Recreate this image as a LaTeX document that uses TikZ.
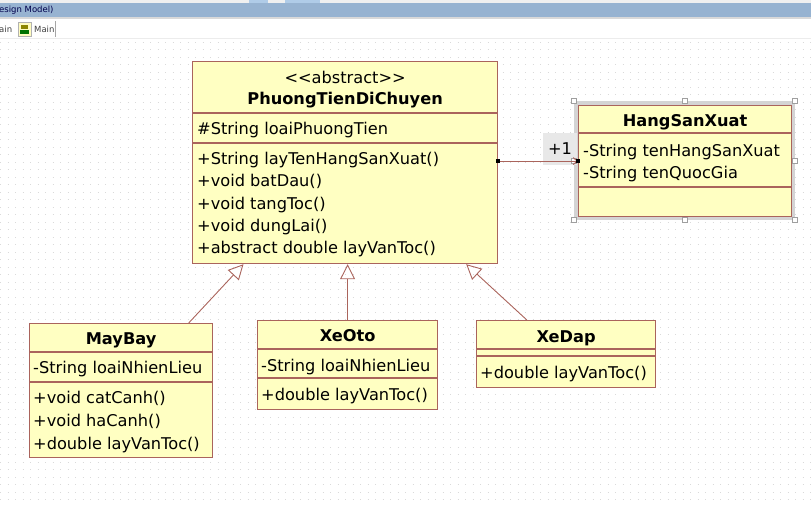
\documentclass[tikz,border=0pt]{standalone}
\usepackage{fontspec}
\setmainfont{DejaVu Sans}
\usetikzlibrary{positioning,arrows.meta,calc}
\definecolor{classfill}{RGB}{255,255,194}
\definecolor{classline}{RGB}{170,100,92}
\definecolor{titleblue}{RGB}{151,179,209}
\definecolor{tabblue}{RGB}{176,204,232}
\definecolor{griddot}{RGB}{218,218,218}
\definecolor{selgray}{RGB}{212,212,212}
\tikzset{
    class box/.style={rectangle, draw=classline, fill=classfill, line width=1.2pt, inner sep=0pt, anchor=north west},
    class title/.style={font=\bfseries\fontsize{16.2}{20}\selectfont, inner sep=0pt, anchor=mid, yshift=-3.5pt},
    stereo/.style={font=\fontsize{16.2}{20}\selectfont, inner sep=0pt, anchor=mid, yshift=-3.5pt},
    member/.style={font=\fontsize{16.2}{20}\selectfont, inner sep=0pt, anchor=mid west, yshift=-3.5pt},
    divider/.style={draw=classline, line width=1.2pt},
    inherit arrow/.style={-{Triangle[open, length=15pt, width=15pt]}, draw=classline, line width=0.9pt},
    assoc arrow/.style={-{Straight Barb[length=4pt, width=7pt]}, draw=classline, line width=1pt},
    sel frame/.style={rectangle, draw=selgray, line width=4pt, inner sep=0pt},
    handle/.style={rectangle, draw=gray!75, fill=white, line width=0.6pt, minimum size=5pt, inner sep=0pt},
    end handle/.style={rectangle, fill=black, minimum size=4pt, inner sep=0pt},
    mult/.style={rectangle, fill=gray!18, font=\fontsize{16.2}{20}\selectfont, minimum width=34pt, minimum height=32pt, inner sep=0pt},
    chrome text/.style={font=\fontsize{8.5}{10}\selectfont, inner sep=0pt, anchor=west}
}
\begin{document}
\begin{tikzpicture}[x=1pt, y=-1pt]
\useasboundingbox (0,0) rectangle (811,506);
% window chrome
\fill[gray!12] (0,0) rectangle (811,3);
\fill[tabblue] (249,0) rectangle (268,3);
\fill[tabblue] (285,0) rectangle (320,3);
\fill[titleblue] (0,3) rectangle (811,17);
\fill[gray!30] (0,17) rectangle (811,19);
\node[chrome text, text=blue!30!black] (wintitle) at (-1,10.5) {esign Model)};
\node[chrome text, text=black!75] (tabprev) at (-1,29) {ain};
\draw[gray!60, fill=yellow!25] (18,22) rectangle (31,36);
\fill[green!45!black] (20,30) rectangle (29,34);
\fill[olive] (21,25) rectangle (28,29);
\node[chrome text, text=black!75] (tabmain) at (34,29) {Main};
\draw[gray!70, line width=1pt] (55,21) -- (55,37);
\draw[gray!15] (0,38) -- (811,38);
% dot grid
\foreach \y in {42,49.5,...,500}
    \draw[griddot, line width=1pt, dash pattern=on 1pt off 6.5pt] (0,\y) -- (811,\y);

% abstract base class
\node[class box, minimum width=305pt, minimum height=202pt] (ptdc) at (192,61) {};
\node[stereo] (ptdc-st) at ($(ptdc.north)+(0,16)$) {<{}<abstract>{}>};
\node[class title] (ptdc-name) at ($(ptdc.north)+(0,37)$) {PhuongTienDiChuyen};
\draw[divider] ($(ptdc.north west)+(0,52)$) -- ($(ptdc.north east)+(0,52)$);
\node[member] (ptdc-attr) at ($(ptdc.north west)+(5,67)$) {\#String loaiPhuongTien};
\draw[divider] ($(ptdc.north west)+(0,82)$) -- ($(ptdc.north east)+(0,82)$);
\foreach \op [count=\i] in {{+String layTenHangSanXuat()}, {+void batDau()}, {+void tangToc()}, {+void dungLai()}, {+abstract double layVanToc()}}
    \node[member] (ptdc-op\i) at ($(ptdc.north west)+(5,{74.6+22.4*\i})$) {\op};

% manufacturer class (selected)
\node[sel frame, minimum width=217pt, minimum height=115pt] (hsx-sel) at (684.5,160.5) {};
\node[mult] (assoc-mult) at (560,149) {+1};
\node[class box, minimum width=213pt, minimum height=111pt] (hsx) at (578,105) {};
\node[class title] (hsx-name) at ($(hsx.north)+(0,15)$) {HangSanXuat};
\draw[divider] ($(hsx.north west)+(0,28)$) -- ($(hsx.north east)+(0,28)$);
\node[member] (hsx-attr1) at ($(hsx.north west)+(5,45)$) {-String tenHangSanXuat};
\node[member] (hsx-attr2) at ($(hsx.north west)+(5,67)$) {-String tenQuocGia};
\draw[divider] ($(hsx.north west)+(0,82)$) -- ($(hsx.north east)+(0,82)$);
\foreach \a/\n in {north west/1, north/2, north east/3, east/4, south east/5, south/6, south west/7, west/8}
    \node[handle] (hsx-handle\n) at (hsx-sel.\a) {};

% subclasses
\node[class box, minimum width=183pt, minimum height=134pt] (mb) at (29,323) {};
\node[class title] (mb-name) at ($(mb.north)+(0,15)$) {MayBay};
\draw[divider] ($(mb.north west)+(0,29)$) -- ($(mb.north east)+(0,29)$);
\node[member] (mb-attr) at ($(mb.north west)+(4,44)$) {-String loaiNhienLieu};
\draw[divider] ($(mb.north west)+(0,59)$) -- ($(mb.north east)+(0,59)$);
\foreach \op [count=\i] in {{+void catCanh()}, {+void haCanh()}, {+double layVanToc()}}
    \node[member] (mb-op\i) at ($(mb.north west)+(4,{51+23*\i})$) {\op};

\node[class box, minimum width=180pt, minimum height=89pt] (xo) at (257,320) {};
\node[class title] (xo-name) at ($(xo.north)+(0,15)$) {XeOto};
\draw[divider] ($(xo.north west)+(0,29)$) -- ($(xo.north east)+(0,29)$);
\node[member] (xo-attr) at ($(xo.north west)+(4,45)$) {-String loaiNhienLieu};
\draw[divider] ($(xo.north west)+(0,58)$) -- ($(xo.north east)+(0,58)$);
\node[member] (xo-op1) at ($(xo.north west)+(4,74)$) {+double layVanToc()};

\node[class box, minimum width=179pt, minimum height=67pt] (xd) at (476,320) {};
\node[class title] (xd-name) at ($(xd.north)+(0,16)$) {XeDap};
\draw[divider] ($(xd.north west)+(0,29)$) -- ($(xd.north east)+(0,29)$);
\draw[divider] ($(xd.north west)+(0,36)$) -- ($(xd.north east)+(0,36)$);
\node[member] (xd-op1) at ($(xd.north west)+(4,52)$) {+double layVanToc()};

% generalization
\draw[inherit arrow] (mb.45) -- (ptdc.225);
\draw[inherit arrow] (xo.north) -- (xo.north |- ptdc.south);
\draw[inherit arrow] (xd.139) -- (ptdc.320);

% association
\draw[assoc arrow] (ptdc.east |- hsx.west) -- (hsx.west);
\node[end handle] (assoc-start) at (ptdc.east |- hsx.west) {};
\node[end handle] (assoc-end) at (hsx.west) {};
\end{tikzpicture}
\end{document}
